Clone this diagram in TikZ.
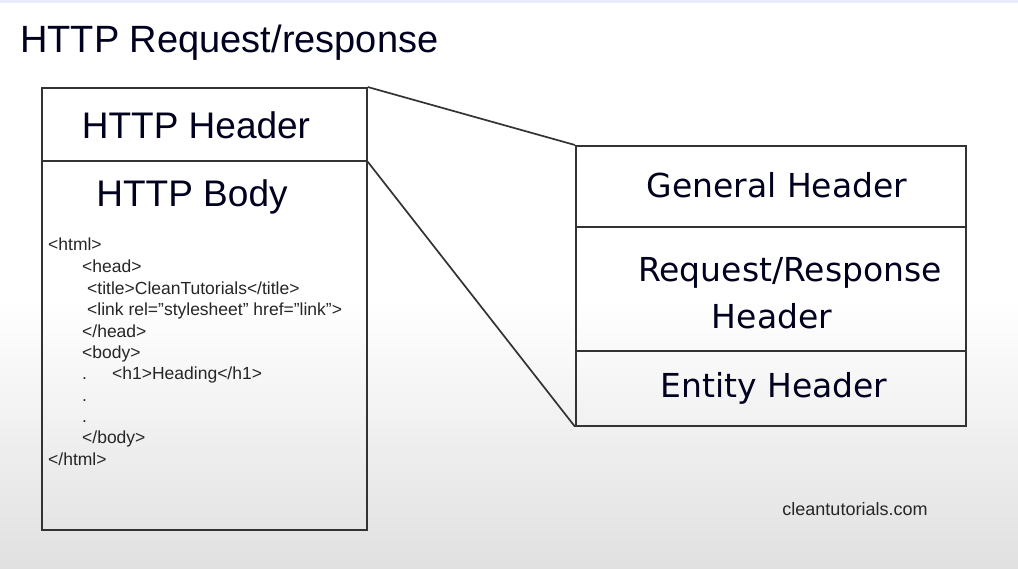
\documentclass[tikz,border=0pt]{standalone}
\usepackage{fontspec}
\setmainfont{Liberation Sans}
\newfontfamily\rfont{DejaVu Sans}
\begin{document}
\begin{tikzpicture}[x=1pt,y=-1pt,
  boxline/.style={draw=black!80,line width=1.7pt},
  cell/.style={boxline,anchor=north west,inner sep=0pt,minimum width=#1},
  bigtxt/.style={font=\fontsize{37}{40}\selectfont,text=black!88!blue,inner sep=0pt},
  rtxt/.style={font=\rfont\fontsize{33}{38}\selectfont,text=black!88!blue,inner sep=0pt},
  code/.style={font=\fontsize{17.5}{19}\selectfont,text=black!85,inner sep=0pt,anchor=base west},
  conn/.style={draw=black!80,line width=1.7pt}]
\useasboundingbox (0,0) rectangle (1018,568);
% background
\fill[white] (0,0) rectangle (1018,300);
\shade[top color=white,bottom color=black!12] (0,300) rectangle (1018,568);
\fill[blue!8!white] (0,0) rectangle (1018,3);
% title
\node[bigtxt,anchor=base west,font=\fontsize{38}{40}\selectfont] (title) at (20,52) {HTTP Request/response};
% left boxes
\node[cell=325pt,minimum height=73pt] (hdr) at (41,87) {};
\node[cell=325pt,minimum height=369pt] (body) at (41,160) {};
\node[bigtxt] (hdrtxt) at (196,125) {HTTP Header};
\node[bigtxt,anchor=base] (bodytxt) at (192,206) {HTTP Body};
% code
\node[code] (c1) at (48,250) {<html>};
\node[code] (c2) at (82,272) {<head>};
\node[code] (c3) at (87,294) {<title>CleanTutorials</title>};
\node[code] (c4) at (87,315) {<link rel="stylesheet" href="link">};
\node[code] (c5) at (82,337) {</head>};
\node[code] (c6) at (82,358) {<body>};
\node[code] (c7) at (82,379) {.};
\node[code] (c7b) at (112,379) {<h1>Heading</h1>};
\node[code] (c8) at (82,401) {.};
\node[code] (c9) at (82,422) {.};
\node[code] (c10) at (82,443) {</body>};
\node[code] (c11) at (48,465) {</html>};
% right boxes
\node[cell=390pt,minimum height=81pt] (gen) at (575,145) {};
\node[cell=390pt,minimum height=124pt] (rr) at (575,226) {};
\node[cell=390pt,minimum height=75pt] (ent) at (575,350) {};
\node[rtxt] (gentxt) at (777,185) {General Header};
\node[rtxt] (rrtxt1) at (790,273) {Request/Response};
\node[rtxt] (rrtxt2) at (772,316) {Header};
\node[rtxt] (enttxt) at (774,388) {Entity Header};
% connectors
\draw[conn] (hdr.north east) -- (gen.north west);
\draw[conn] (hdr.south east) -- (ent.south west);
% footer
\node[font=\fontsize{18}{20}\selectfont,text=black!85,inner sep=0pt] (site) at (855,509) {cleantutorials.com};
\end{tikzpicture}
\end{document}
